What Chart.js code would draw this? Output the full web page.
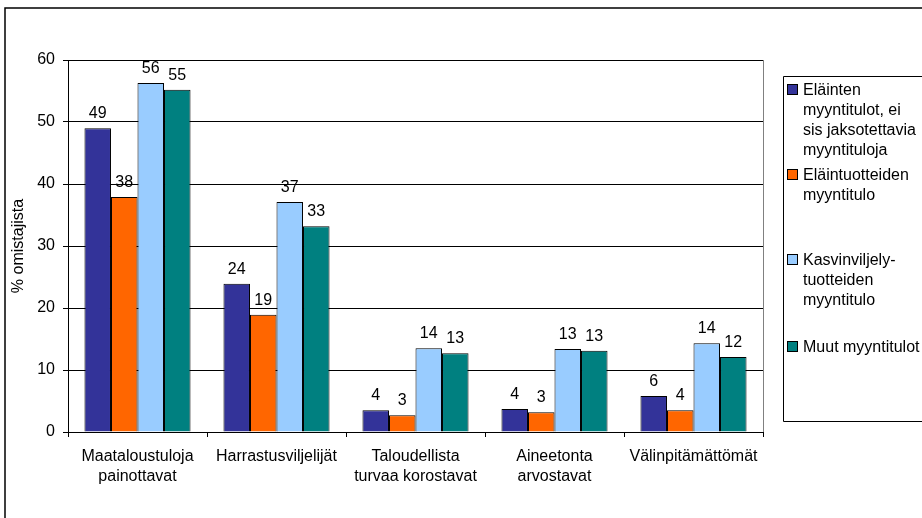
<!DOCTYPE html>
<html>
<head>
<meta charset="utf-8">
<script src="https://cdn.jsdelivr.net/npm/chart.js@4.4.1/dist/chart.umd.min.js"></script>
<style>
html,body{margin:0;padding:0;background:#fff;}
#wrap{width:922px;height:518px;position:relative;}
</style>
</head>
<body>
<div id="wrap"><canvas id="c" width="922" height="518"></canvas></div>
<script>
const categories = [
  ["Maataloustuloja", "painottavat"],
  ["Harrastusviljelijät"],
  ["Taloudellista", "turvaa korostavat"],
  ["Aineetonta", "arvostavat"],
  ["Välinpitämättömät"]
];
const seriesNames = [
  ["Eläinten", "myyntitulot, ei", "sis jaksotettavia", "myyntituloja"],
  ["Eläintuotteiden", "myyntitulo"],
  ["Kasvinviljely-", "tuotteiden", "myyntitulo"],
  ["Muut myyntitulot"]
];
const elaintenMyynti = [49.0, 23.9, 3.5, 3.7, 5.8];
const elaintuotteet = [37.9, 18.9, 2.7, 3.2, 3.5];
const kasvinviljely = [56.3, 37.1, 13.5, 13.4, 14.3];
const muut = [55.2, 33.2, 12.7, 13.1, 12.1];
const yTicks = [0, 10, 20, 30, 40, 50, 60];
const yTitle = "% omistajista";

const colors = ["#333399", "#FF6600", "#99CCFF", "#008080"];
const seriesValues = [elaintenMyynti, elaintuotteet, kasvinviljely, muut];
const FONT = "'Liberation Sans', Arial, sans-serif";
const FS = 16;

const frame = {
  id: 'frame',
  beforeDraw(chart) {
    const ctx = chart.ctx;
    ctx.save();
    ctx.fillStyle = '#fff';
    ctx.fillRect(0, 0, chart.width, chart.height);
    ctx.restore();
  },
  afterDraw(chart) {
    const ctx = chart.ctx, a = chart.chartArea;
    ctx.save();
    // outer frame
    ctx.strokeStyle = '#000';
    ctx.lineWidth = 1.5;
    ctx.beginPath();
    ctx.moveTo(5, 530); ctx.lineTo(5, 8); ctx.lineTo(930, 8);
    ctx.stroke();
    // plot right border
    ctx.strokeStyle = '#808080';
    ctx.lineWidth = 1;
    ctx.beginPath();
    ctx.moveTo(Math.round(a.right) + 0.5, a.top);
    ctx.lineTo(Math.round(a.right) + 0.5, a.bottom);
    ctx.stroke();
    // legend box
    ctx.strokeStyle = '#000';
    ctx.beginPath();
    ctx.moveTo(930, 76.5); ctx.lineTo(783.5, 76.5); ctx.lineTo(783.5, 421.5); ctx.lineTo(930, 421.5);
    ctx.stroke();
    // legend items
    const starts = [90, 175, 260, 347];
    ctx.font = FS + 'px ' + FONT;
    ctx.textBaseline = 'middle';
    ctx.textAlign = 'left';
    seriesNames.forEach((lines, i) => {
      const y0 = starts[i];
      ctx.fillStyle = colors[i];
      ctx.fillRect(787.5, y0 - 5.5, 10, 10);
      ctx.strokeStyle = '#000';
      ctx.strokeRect(787.5, y0 - 5.5, 10, 10);
      ctx.fillStyle = '#000';
      lines.forEach((t, k) => ctx.fillText(t, 803, y0 + k * 20 + 1));
    });
    // data labels
    ctx.textAlign = 'center';
    ctx.textBaseline = 'alphabetic';
    chart.data.datasets.forEach((ds, di) => {
      const meta = chart.getDatasetMeta(di);
      meta.data.forEach((bar, j) => {
        ctx.fillText(String(Math.round(ds.data[j])), bar.x, bar.y - 10);
      });
    });
    ctx.restore();
  }
};

new Chart(document.getElementById('c'), {
  type: 'bar',
  data: {
    labels: categories,
    datasets: seriesValues.map((vals, i) => ({
      label: seriesNames[i].join(' '),
      data: vals,
      backgroundColor: colors[i],
      borderColor: '#000',
      borderWidth: 1,
      categoryPercentage: 0.763,
      barPercentage: 1.0
    }))
  },
  options: {
    responsive: false,
    animation: false,
    devicePixelRatio: 1,
    layout: { padding: { left: 0, top: 60, right: 159, bottom: 0 } },
    plugins: { legend: { display: false }, tooltip: { enabled: false } },
    scales: {
      x: {
        offset: true,
        grid: { offset: true, drawOnChartArea: false, tickLength: 5, color: '#000' },
        border: { color: '#000', width: 1 },
        ticks: { color: '#000', font: { family: FONT, size: FS, lineHeight: 1.25 }, padding: 10, maxRotation: 0, autoSkip: false },
        afterFit(s) { s.height = 86; }
      },
      y: {
        min: 0, max: 60,
        afterBuildTicks(s) { s.ticks = yTicks.map(v => ({ value: v })); },
        grid: { color: '#000', tickLength: 5 },
        border: { color: '#000', width: 1 },
        ticks: { color: '#000', font: { family: FONT, size: FS }, padding: 8 },
        title: { display: true, text: yTitle, color: '#000', font: { family: FONT, size: FS }, padding: { top: 9, bottom: 0 } },
        afterFit(s) { s.width = 68; }
      }
    }
  },
  plugins: [frame]
});
</script>
</body>
</html>
